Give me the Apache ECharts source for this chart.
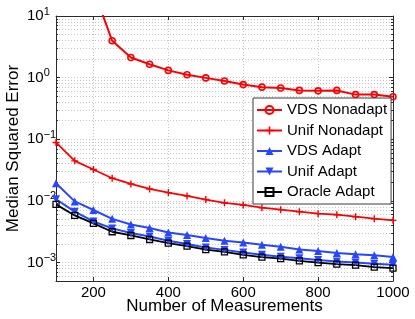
<!DOCTYPE html>
<html>
<head>
<meta charset="utf-8">
<script src="https://cdn.jsdelivr.net/npm/echarts@6.0.0/dist/echarts.min.js"></script>
<style>
html,body{margin:0;padding:0;background:#fff;}
#chart{width:415px;height:319px;}
</style>
</head>
<body>
<div id="chart"></div>
<script>
// ---- data ----
const measurements = [100,150,200,250,300,350,400,450,500,550,600,650,700,750,800,850,900,950,1000];
const vdsNonadapt  = [300, 90, 27, 3.96, 2.12, 1.65, 1.31, 1.11, 0.99, 0.88, 0.77, 0.70, 0.68, 0.62, 0.61, 0.62, 0.53, 0.53, 0.49];
const unifNonadapt = [0.0887, 0.0446, 0.0322, 0.0233, 0.0188, 0.0156, 0.0136, 0.0120, 0.0105, 0.0093, 0.00857, 0.00774, 0.00719, 0.00667, 0.00619, 0.00596, 0.00553, 0.00513, 0.00482];
const vdsAdapt     = [0.0193, 0.0098, 0.0071, 0.0051, 0.00414, 0.00362, 0.00307, 0.00279, 0.00249, 0.00225, 0.00211, 0.00194, 0.00180, 0.00162, 0.00153, 0.00142, 0.00136, 0.00131, 0.00123];
const unifAdapt    = [0.0106, 0.00667, 0.00463, 0.00357, 0.0030, 0.00264, 0.00225, 0.00199, 0.00175, 0.00160, 0.00145, 0.00133, 0.00124, 0.00117, 0.0011, 0.00104, 0.00100, 0.00095, 0.000914];
const oracleAdapt  = [0.00877, 0.0058, 0.0043, 0.00315, 0.00274, 0.00236, 0.00206, 0.00184, 0.00162, 0.00149, 0.00133, 0.00122, 0.00115, 0.00106, 0.000997, 0.00094, 0.000904, 0.00084, 0.000807];

const seriesNames = ['VDS Nonadapt','Unif Nonadapt','VDS Adapt','Unif Adapt','Oracle Adapt'];
const xTicks = [200,400,600,800,1000];
const yTicks = [0.001,0.01,0.1,1,10];
const yTickExp = {'0.001':'−3','0.01':'−2','0.1':'−1','1':'0','10':'1'};
const yMinorTicks = [0.0006,0.0007,0.0008,0.0009,
  0.002,0.003,0.004,0.005,0.006,0.007,0.008,0.009,
  0.02,0.03,0.04,0.05,0.06,0.07,0.08,0.09,
  0.2,0.3,0.4,0.5,0.6,0.7,0.8,0.9,
  2,3,4,5,6,7,8,9];

const pair = arr => measurements.map((x,i)=>[x,arr[i]]);
const FONT = "'Liberation Sans', Arial, Helvetica, sans-serif";
const X_MIN = 100, X_MAX = 1000, Y_MIN = 0.0005, Y_MAX = 10;
const gridLine = {show:true, lineStyle:{color:'#c4c4c4', type:[1,2], width:1}};
const axisLine = {show:true, lineStyle:{color:'#2b2b2b', width:1}};

const chart = echarts.init(document.getElementById('chart'), null, {renderer:'canvas'});
const redColor = '#ff0000', blueColor = '#2846ff', blackColor = '#000000';
const plusPath = 'path://M4,0h2v4h4v2h-4v4h-2v-4h-4v-2h4z';

chart.setOption({
  animation:false,
  backgroundColor:'#fff',
  textStyle:{fontFamily:FONT},
  grid:{left:56, top:16, right:22, bottom:38, containLabel:false, outerBoundsMode:'none'},
  legend:{
    orient:'vertical', left:253, top:98,
    data:seriesNames,
    backgroundColor:'#fff', borderColor:'#3a3a3a', borderWidth:1, borderRadius:0,
    padding:[4,4,4,3], itemGap:4.5, itemWidth:25, itemHeight:10,
    selectedMode:false,
    textStyle:{fontFamily:FONT, fontSize:15, color:'#000', lineHeight:16}
  },
  xAxis:[
    {type:'value', position:'bottom', min:X_MIN, max:X_MAX,
     name:'Number of Measurements', nameLocation:'middle', nameGap:17, nameMoveOverlap:false,
     nameTextStyle:{fontFamily:FONT, fontSize:17, color:'#000'},
     axisLine:axisLine,
     axisTick:{show:true, inside:true, length:4, customValues:xTicks, lineStyle:{color:'#2b2b2b'}},
     axisLabel:{show:true, customValues:xTicks, margin:4, fontFamily:FONT, fontSize:15, color:'#000',
       formatter:v=>String(v)},
     splitLine:gridLine},
    {type:'value', position:'top', min:X_MIN, max:X_MAX,
     axisLine:axisLine,
     axisTick:{show:true, inside:true, length:4, customValues:xTicks, lineStyle:{color:'#2b2b2b'}},
     axisLabel:{show:false}, splitLine:{show:false}}
  ],
  yAxis:[
    {type:'log', logBase:10, position:'left', min:Y_MIN, max:Y_MAX,
     name:'Median Squared Error', nameLocation:'middle', nameGap:34, nameMoveOverlap:false,
     nameTextStyle:{fontFamily:FONT, fontSize:17, color:'#000'},
     axisLine:axisLine,
     axisTick:{show:true, inside:true, length:4, customValues:yTicks, lineStyle:{color:'#2b2b2b'}},
     axisLabel:{show:true, customValues:yTicks, margin:29, align:'left',
       formatter:v=>'{b|10}{s|'+(yTickExp[String(v)]||'')+'}',
       rich:{
         b:{fontFamily:FONT, fontSize:15, lineHeight:16, color:'#000'},
         s:{fontFamily:FONT, fontSize:11, lineHeight:11, color:'#000', padding:[0,0,9,0]}
       }},
     splitLine:gridLine},
    {type:'log', logBase:10, position:'left', min:Y_MIN, max:Y_MAX,
     axisLine:{show:false},
     axisTick:{show:true, inside:true, length:2, customValues:yMinorTicks, lineStyle:{color:'#2b2b2b'}},
     axisLabel:{show:false}, splitLine:gridLine},
    {type:'log', logBase:10, position:'right', min:Y_MIN, max:Y_MAX,
     axisLine:axisLine,
     axisTick:{show:true, inside:true, length:4, customValues:yTicks, lineStyle:{color:'#2b2b2b'}},
     axisLabel:{show:false}, splitLine:{show:false}},
    {type:'log', logBase:10, position:'right', min:Y_MIN, max:Y_MAX,
     axisLine:{show:false},
     axisTick:{show:true, inside:true, length:2, customValues:yMinorTicks, lineStyle:{color:'#2b2b2b'}},
     axisLabel:{show:false}, splitLine:{show:false}}
  ],
  series:[
    {name:seriesNames[0], type:'line', data:pair(vdsNonadapt), clip:true,
     symbol:'circle', symbolSize:6, showAllSymbol:true,
     lineStyle:{color:redColor, width:2},
     itemStyle:{color:'rgba(255,255,255,0)', borderColor:redColor, borderWidth:1.6}},
    {name:seriesNames[1], type:'line', data:pair(unifNonadapt), clip:true,
     symbol:plusPath, symbolSize:7, showAllSymbol:true,
     lineStyle:{color:redColor, width:1.8},
     itemStyle:{color:redColor}},
    {name:seriesNames[2], type:'line', data:pair(vdsAdapt), clip:true,
     symbol:'triangle', symbolSize:8, showAllSymbol:true,
     lineStyle:{color:blueColor, width:2},
     itemStyle:{color:blueColor}},
    {name:seriesNames[3], type:'line', data:pair(unifAdapt), clip:true,
     symbol:'triangle', symbolRotate:180, symbolSize:8, showAllSymbol:true,
     lineStyle:{color:blueColor, width:2},
     itemStyle:{color:blueColor}},
    {name:seriesNames[4], type:'line', data:pair(oracleAdapt), clip:true,
     symbol:'rect', symbolSize:6, showAllSymbol:true,
     lineStyle:{color:blackColor, width:1.8},
     itemStyle:{color:'rgba(255,255,255,0)', borderColor:blackColor, borderWidth:1.3}}
  ]
});
</script>
</body>
</html>
